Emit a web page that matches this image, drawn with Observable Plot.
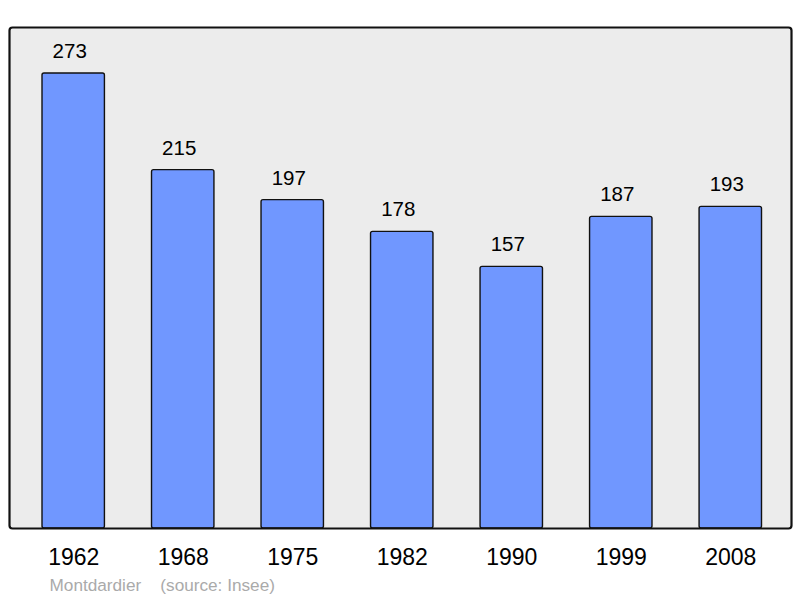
<!DOCTYPE html>
<html><head><meta charset="utf-8">
<script src="https://cdn.jsdelivr.net/npm/d3@7"></script>
<script src="https://cdn.jsdelivr.net/npm/@observablehq/plot@0.6"></script>
<style>body{margin:0;background:#fff;} svg{display:block;}</style>
</head><body><div id="chart"></div>
<script>
const years = ["1962","1968","1975","1982","1990","1999","2008"];
const population = [273,215,197,178,157,187,193];
const commune = "Montdardier";
const source = "(source: Insee)";
const data = years.map((y,i)=>({year:y, pop:population[i]}));
const font = "Liberation Sans, Arial, sans-serif";
const chart = Plot.plot({
  width: 800, height: 598,
  marginLeft: 9, marginRight: 9, marginTop: 27, marginBottom: 70,
  style: {fontFamily: font, background: "#fff", overflow: "visible"},
  x: {domain: years, range: [42, 761.5], paddingInner: 0.43, paddingOuter: 0, align: 0.5, round: false},
  y: {domain: [0, 300.6], axis: null},
  marks: [
    Plot.frame({fill: "#ececec", stroke: "none"}),
    Plot.barY(data, {x: "year", y: "pop", fill: "#7097ff", stroke: "#111", strokeWidth: 1.4, rx: 2}),
    Plot.text(data, {x: "year", y: "pop", text: d => String(d.pop), dx: -4, dy: -22, fontSize: 20.5, fill: "#000"}),
    Plot.frame({stroke: "#111", strokeWidth: 2.2, rx: 3}),
    Plot.axisX({tickSize: 0, tickPadding: 20, fontSize: 23, fill: "#000", label: null}),
    Plot.text([commune + "\u00a0\u00a0\u00a0\u00a0" + source], {frameAnchor: "bottom-left", dx: 40, dy: 62, text: d => d, fontSize: 17.2, fill: "#aaa", textAnchor: "start"})
  ]
});
document.getElementById("chart").append(chart);
</script></body></html>
